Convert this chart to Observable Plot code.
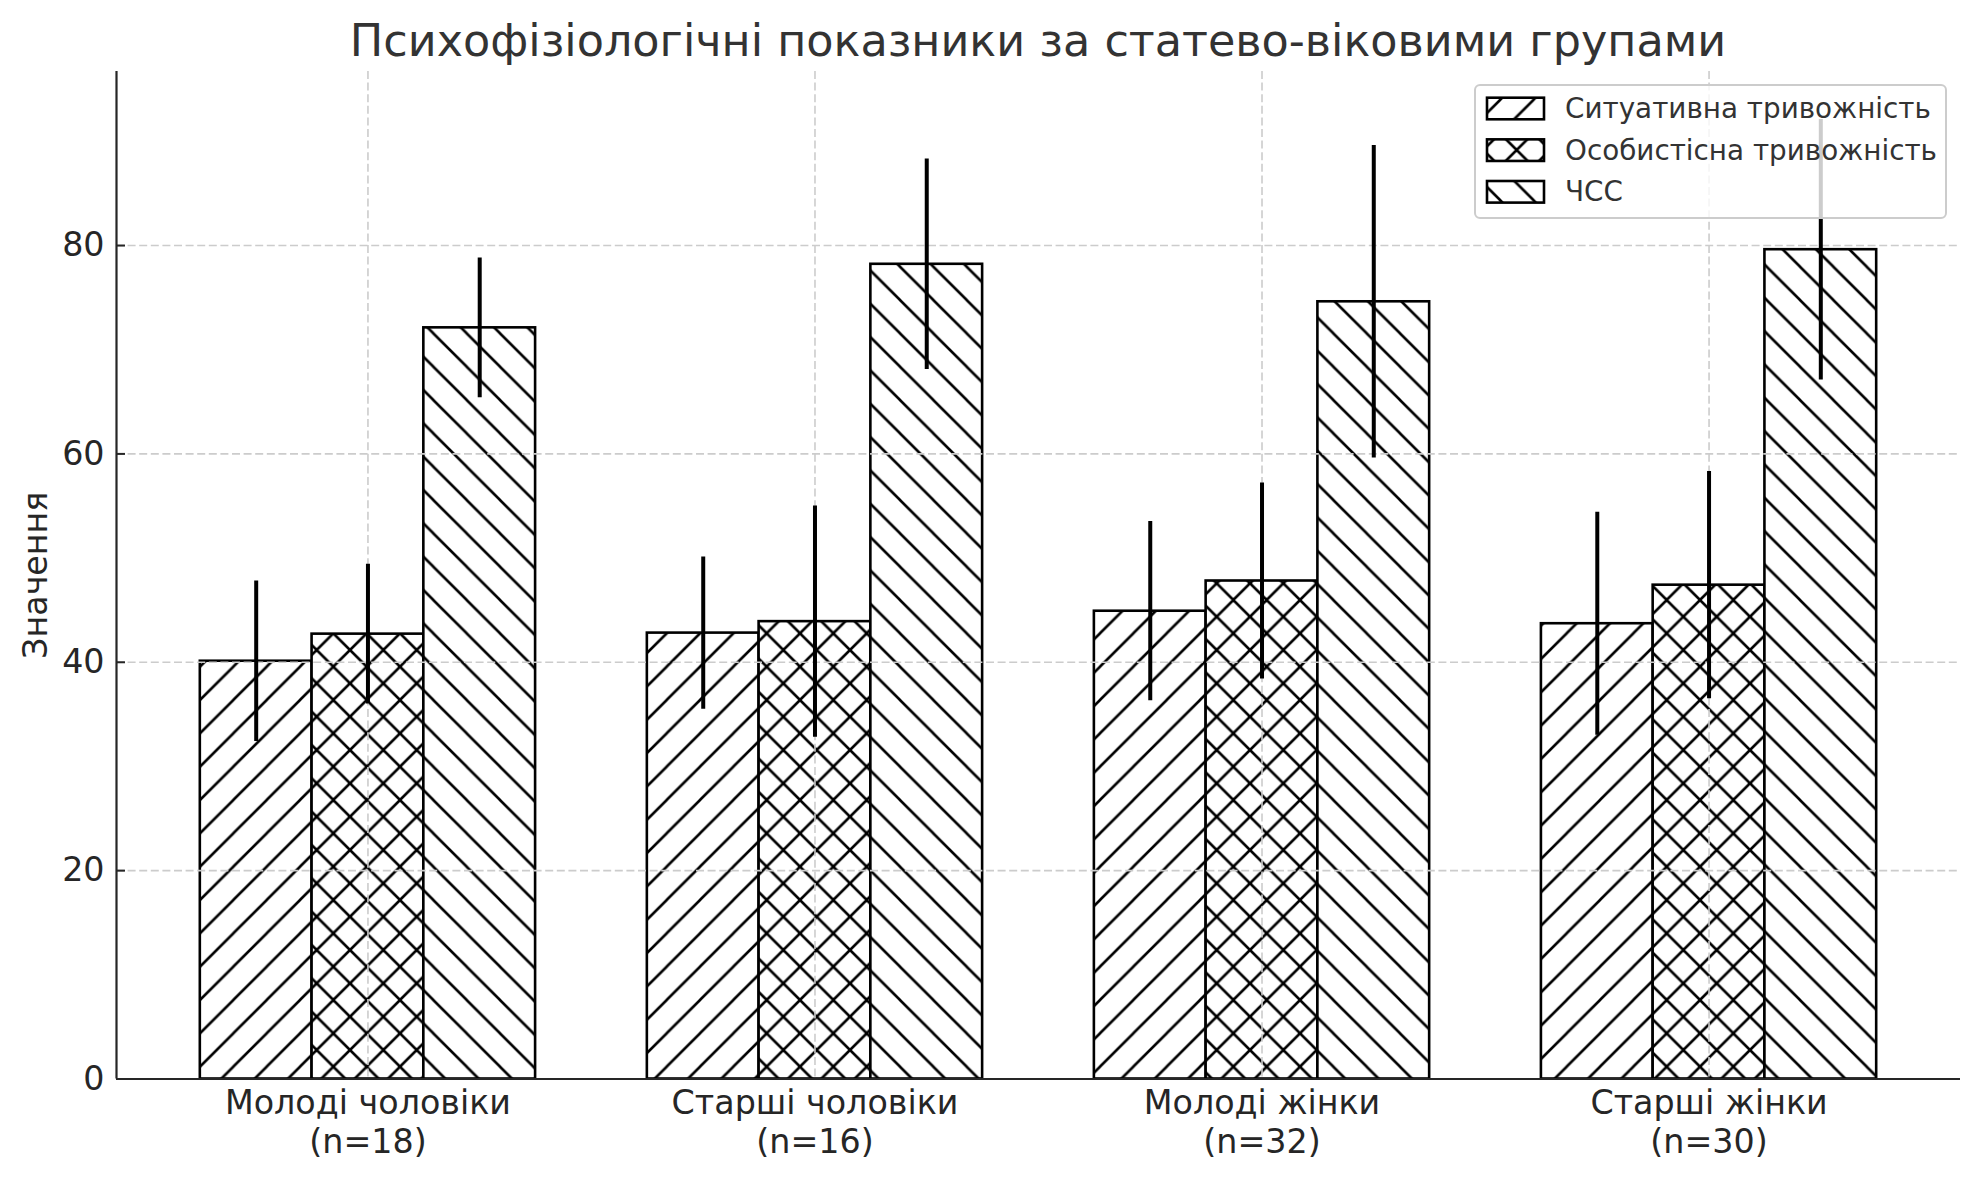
<!DOCTYPE html>
<html>
<head>
<meta charset="utf-8">
<script src="https://cdn.jsdelivr.net/npm/d3@7"></script>
<script src="https://cdn.jsdelivr.net/npm/@observablehq/plot@0.6"></script>
<style>
  html, body { margin: 0; padding: 0; background: #ffffff; overflow: hidden; }
  #title {
    box-sizing: border-box; width: 1980px; height: 62px;
    padding: 0 20px 0 116px; font-family: "DejaVu Sans"; font-size: 44.5px;
    line-height: 81px; text-align: center; color: #333333; white-space: nowrap;
  }
  #chart svg { display: block; }
</style>
</head>
<body>
<div id="title">Психофізіологічні показники за статево-віковими групами</div>
<div id="chart"></div>
<script>
// ---- data ----
const groups = ["Молоді чоловіки", "Старші чоловіки", "Молоді жінки", "Старші жінки"];
const groupN = [18, 16, 32, 30];
const seriesNames = ["Ситуативна тривожність", "Особистісна тривожність", "ЧСС"];
const situational    = [40.1, 42.8, 44.9, 43.7];
const situationalErr = [7.7, 7.3, 8.6, 10.7];
const personal       = [42.7, 43.9, 47.8, 47.4];
const personalErr    = [6.7, 11.1, 9.4, 10.9];
const heartRate      = [72.1, 78.2, 74.6, 79.6];
const heartRateErr   = [6.7, 10.1, 15.0, 12.5];
const yTicks = [0, 20, 40, 60, 80];
const yLabel = "Значення";

// ---- layout ----
const W = 1980, TITLE_H = 62, H = 1180 - TITLE_H;
const mL = 116, mR = 20, mT = 9, mB = 101.5;
const barW = 0.25;
const P = 100 / 3; // hatch period

const means = [situational, personal, heartRate];
const errs = [situationalErr, personalErr, heartRateErr];
const rows = [];
means.forEach((arr, s) => arr.forEach((v, i) =>
  rows.push({s, i, x: i + (s - 1) * barW, v, e: errs[s][i]})));

const lo = -1.5 * barW, hi = groups.length - 1 + 1.5 * barW;
const pad = (hi - lo) * 0.05;
const xDom = [lo - pad, hi + pad];
const yMax = d3.max(rows, d => d.v + d.e) * 1.05;

const gridStyle = {stroke: "#cccccc", strokeOpacity: 1, strokeWidth: 1.6, strokeDasharray: "8,3.6"};

const svg = Plot.plot({
  width: W, height: H,
  marginLeft: mL, marginRight: mR, marginTop: mT, marginBottom: mB,
  style: {fontFamily: "DejaVu Sans", fontSize: "33px", color: "#262626", background: "white", overflow: "visible"},
  x: {type: "linear", domain: xDom, axis: null},
  y: {type: "linear", domain: [0, yMax], axis: null},
  marks: [
    ...seriesNames.map((name, s) => Plot.rect(rows.filter(d => d.s === s), {
      x1: d => d.x - barW / 2, x2: d => d.x + barW / 2, y1: 0, y2: "v",
      fill: `url(#hatch-${s})`, stroke: "black", strokeWidth: 2.6
    })),
    Plot.gridX({ticks: d3.range(groups.length), ...gridStyle}),
    Plot.gridY({ticks: yTicks.slice(1), ...gridStyle}),
    Plot.ruleX(rows, {x: "x", y1: d => d.v - d.e, y2: d => d.v + d.e, stroke: "black", strokeWidth: 4}),
    Plot.ruleX([xDom[0]], {stroke: "#262626", strokeWidth: 2.2}),
    Plot.ruleY([0], {stroke: "#262626", strokeWidth: 2.2}),
    Plot.axisY({ticks: yTicks, tickSize: 9, dx: 9, tickFormat: () => "", strokeWidth: 2, label: null}),
    Plot.axisY({ticks: yTicks, tickSize: 0, tickPadding: 12, fontSize: 33.3, label: null}),
    Plot.text(groups, {
      x: (d, i) => i, text: (d, i) => `${d}\n(n=${groupN[i]})`,
      frameAnchor: "bottom", lineAnchor: "top", dy: 8, lineHeight: 1.16, fontSize: 33.3
    }),
    Plot.text([yLabel], {frameAnchor: "left", textAnchor: "middle", rotate: -90, dx: -80, fontSize: 33.3})
  ]
});

document.getElementById("chart").appendChild(svg);

// ---- hatch patterns (aligned to page origin) ----
const defs = d3.select(svg).insert("defs", ":first-child");
const fwd = `M0,${P} L${P},0 M${-P/4},${P/4} L${P/4},${-P/4} M${3*P/4},${5*P/4} L${5*P/4},${3*P/4}`;
const back = `M0,0 L${P},${P} M${-P/4},${3*P/4} L${P/4},${5*P/4} M${3*P/4},${-P/4} L${5*P/4},${P/4}`;
[[fwd], [fwd, back], [back]].forEach((paths, s) => {
  const p = defs.append("pattern").attr("id", `hatch-${s}`)
    .attr("patternUnits", "userSpaceOnUse").attr("width", P).attr("height", P)
    .attr("patternTransform", `translate(0,${-TITLE_H})`);
  p.append("rect").attr("width", P).attr("height", P).attr("fill", "white");
  paths.forEach(d => p.append("path").attr("d", d).attr("stroke", "black").attr("stroke-width", 2.6).attr("fill", "none"));
});

// ---- legend ----
const legFont = 27.8, swW = 57, swH = 21.6, rowGap = 41.65;
const lg = d3.select(svg).append("g").attr("font-family", "DejaVu Sans")
  .attr("font-size", legFont).attr("text-anchor", "start");
const box = lg.append("rect");
const texts = seriesNames.map((name, s) => lg.append("text")
  .attr("fill", "#333333").attr("text-anchor", "start").attr("dominant-baseline", "central").text(name));
const textW = d3.max(texts, t => t.node().getComputedTextLength());
const lw = 90 + textW + 9, lh = 133;
const lx = W - mR - 14 - lw, ly = mT + 14;
box.attr("x", lx).attr("y", ly).attr("width", lw).attr("height", lh).attr("rx", 5)
  .attr("fill", "white").attr("fill-opacity", 0.8).attr("stroke", "#cccccc").attr("stroke-width", 2);
seriesNames.forEach((name, s) => {
  const cy = ly + 23.5 + s * rowGap;
  lg.insert("rect", "text").attr("x", lx + 12).attr("y", cy - swH / 2).attr("width", swW).attr("height", swH)
    .attr("fill", `url(#hatch-${s})`).attr("stroke", "black").attr("stroke-width", 2.6);
  texts[s].attr("x", lx + 90).attr("y", cy);
});
</script>
</body>
</html>
